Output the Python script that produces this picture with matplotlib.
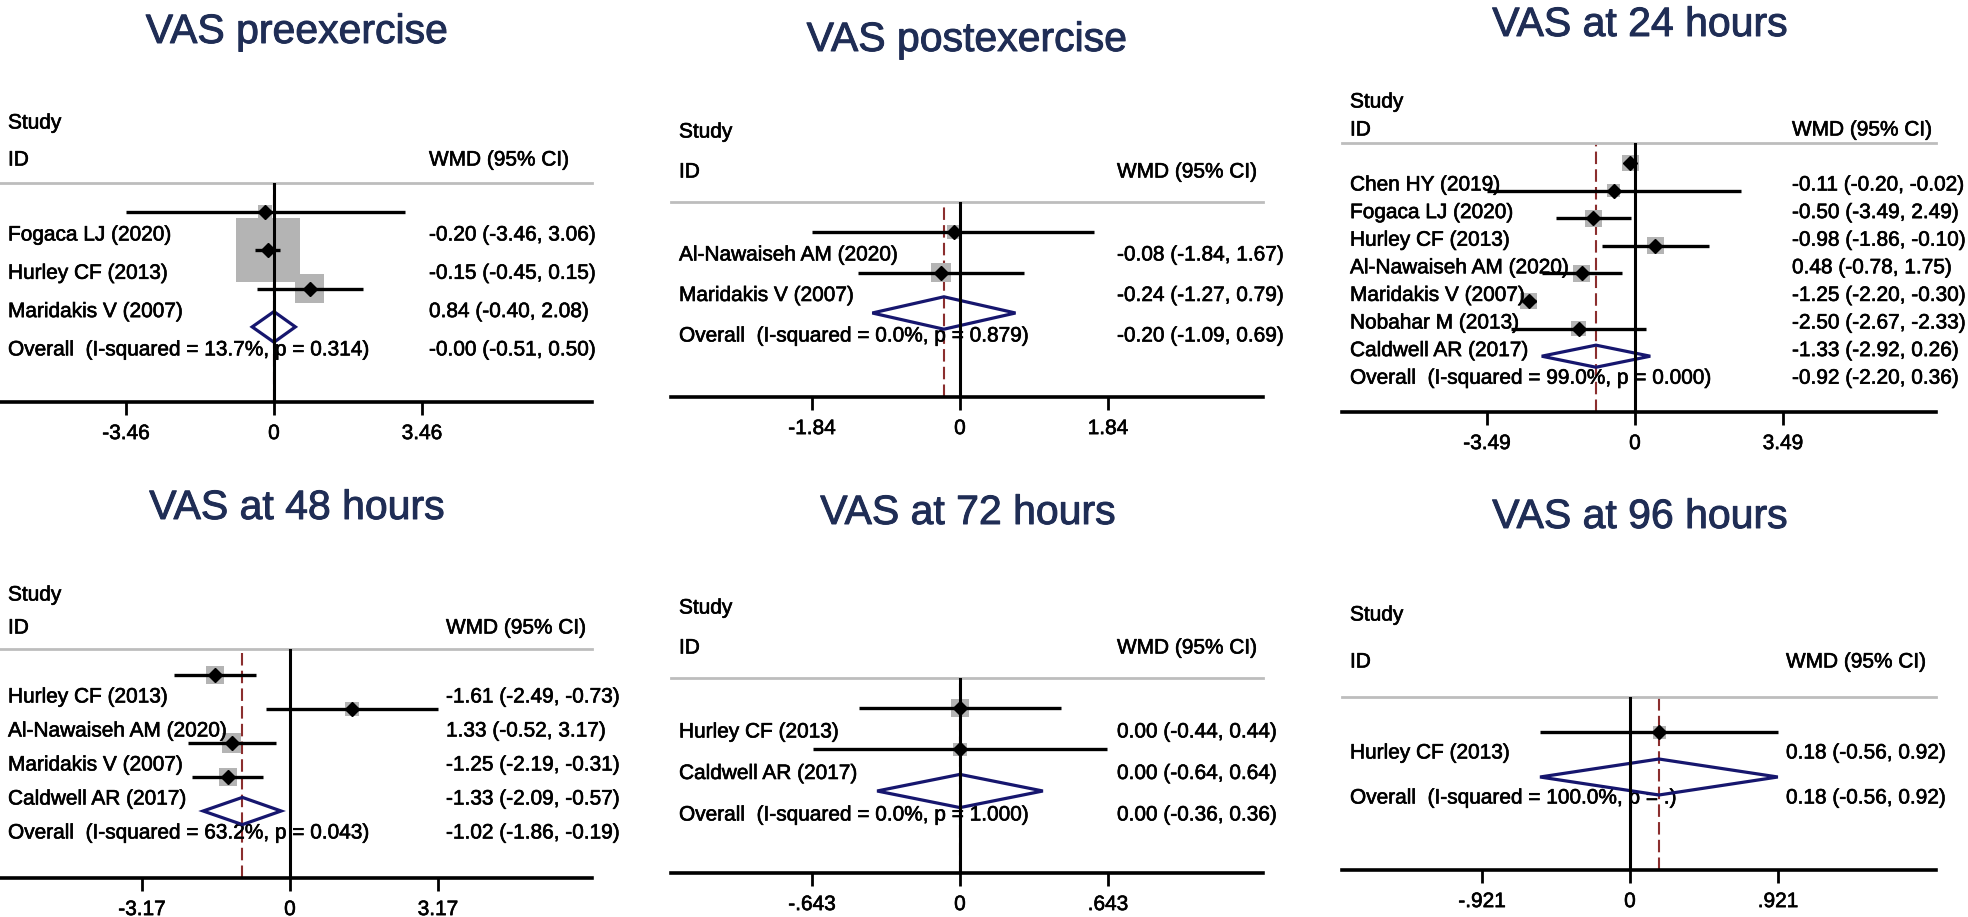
"""
Six-panel forest plot (VAS pain at several time points), Stata metan look.
"""
import numpy as np
import matplotlib
matplotlib.use("Agg")
import matplotlib.pyplot as plt
import matplotlib.transforms as mtransforms
import matplotlib.patheffects as pe
from matplotlib.patches import Polygon

plt.rcParams["font.family"] = ["Liberation Sans", "DejaVu Sans"]

# ── Data ──────────────────────────────────────────────────────────────────────
PRE_STUDIES = ["Fogaca LJ (2020)", "Hurley CF (2013)", "Maridakis V (2007)"]
PRE_EST = [-0.20, -0.15, 0.84]
PRE_LO = [-3.46, -0.45, -0.40]
PRE_HI = [3.06, 0.15, 2.08]
PRE_WEIGHT = [3.8, 79.8, 16.4]
PRE_OVERALL = (-0.001, -0.51, 0.50)
PRE_HET = (13.7, 0.314)
PRE_TICK = 3.46

POST_STUDIES = ["Al-Nawaiseh AM (2020)", "Maridakis V (2007)"]
POST_EST = [-0.08, -0.24]
POST_LO = [-1.84, -1.27]
POST_HI = [1.67, 0.79]
POST_WEIGHT = [32.9, 67.1]
POST_OVERALL = (-0.20, -1.09, 0.69)
POST_HET = (0.0, 0.879)
POST_TICK = 1.84

H24_STUDIES = ["Chen HY (2019)", "Fogaca LJ (2020)", "Hurley CF (2013)",
               "Al-Nawaiseh AM (2020)", "Maridakis V (2007)", "Nobahar M (2013)",
               "Caldwell AR (2017)"]
H24_EST = [-0.11, -0.50, -0.98, 0.48, -1.25, -2.50, -1.33]
H24_LO = [-0.20, -3.49, -1.86, -0.78, -2.20, -2.67, -2.92]
H24_HI = [-0.02, 2.49, -0.10, 1.75, -0.30, -2.33, 0.26]
H24_WEIGHT = [15.7, 9.2, 15.7, 15.7, 15.7, 15.7, 12.2]
H24_OVERALL = (-0.92, -2.20, 0.36)
H24_HET = (99.0, 0.000)
H24_TICK = 3.49

H48_STUDIES = ["Hurley CF (2013)", "Al-Nawaiseh AM (2020)", "Maridakis V (2007)",
               "Caldwell AR (2017)"]
H48_EST = [-1.61, 1.33, -1.25, -1.33]
H48_LO = [-2.49, -0.52, -2.19, -2.09]
H48_HI = [-0.73, 3.17, -0.31, -0.57]
H48_WEIGHT = [26.9, 16.3, 30.0, 26.9]
H48_OVERALL = (-1.02, -1.86, -0.19)
H48_HET = (63.2, 0.043)
H48_TICK = 3.17

H72_STUDIES = ["Hurley CF (2013)", "Caldwell AR (2017)"]
H72_EST = [0.00, 0.00]
H72_LO = [-0.44, -0.64]
H72_HI = [0.44, 0.64]
H72_WEIGHT = [62.3, 37.7]
H72_OVERALL = (0.00, -0.36, 0.36)
H72_HET = (0.0, 1.000)
H72_TICK = 0.643

H96_STUDIES = ["Hurley CF (2013)"]
H96_EST = [0.18]
H96_LO = [-0.56]
H96_HI = [0.92]
H96_WEIGHT = [100.0]
H96_OVERALL = (0.18, -0.56, 0.92)
H96_HET = (100.0, None)
H96_TICK = 0.921

TITLES = ["VAS preexercise", "VAS postexercise", "VAS at 24 hours",
          "VAS at 48 hours", "VAS at 72 hours", "VAS at 96 hours"]

# ── Layout (pixels on the 1968 x 917 canvas) ──────────────────────────────────
W, H = 1968, 917
TICK_PX = 148          # distance zero -> outer tick
TITLE_COLOR = "#1f2d55"
NAVY = "#16166e"
GREY_BOX = "#b4b4b4"
GREY_LINE = "#bdbdbd"
RED = "#8b2e2e"

LAYOUTS = [
    dict(left=0, right=592, zero=274, grey=183, axis=402, m0=212, sp=38.3, loff=23,
         study=123, idy=160, tx=297, ty=32, text_x=8, wmd_x=429, box_k=7.16),
    dict(left=671, right=1263, zero=960, grey=202, axis=397, m0=232, sp=40.5, loff=23,
         study=132, idy=172, tx=967, ty=40, text_x=679, wmd_x=1117, box_k=2.44),
    dict(left=1342, right=1936, zero=1635, grey=143, axis=412, m0=163, sp=27.6, loff=22,
         study=102, idy=130, tx=1640, ty=25, text_x=1350, wmd_x=1792, box_k=4.29),
    dict(left=0, right=592, zero=290, grey=649, axis=878, m0=675, sp=34.0, loff=22,
         study=595, idy=628, tx=297, ty=508, text_x=8, wmd_x=446, box_k=3.47),
    dict(left=671, right=1263, zero=960, grey=678, axis=873, m0=708, sp=41.5, loff=24,
         study=608, idy=648, tx=968, ty=513, text_x=679, wmd_x=1117, box_k=2.28),
    dict(left=1342, right=1936, zero=1630, grey=697, axis=870, m0=732, sp=45.0, loff=21,
         study=615, idy=662, tx=1640, ty=517, text_x=1350, wmd_x=1786, box_k=1.3),
]

PANELS = [
    (PRE_STUDIES, PRE_EST, PRE_LO, PRE_HI, PRE_WEIGHT, PRE_OVERALL, PRE_HET, PRE_TICK),
    (POST_STUDIES, POST_EST, POST_LO, POST_HI, POST_WEIGHT, POST_OVERALL, POST_HET, POST_TICK),
    (H24_STUDIES, H24_EST, H24_LO, H24_HI, H24_WEIGHT, H24_OVERALL, H24_HET, H24_TICK),
    (H48_STUDIES, H48_EST, H48_LO, H48_HI, H48_WEIGHT, H48_OVERALL, H48_HET, H48_TICK),
    (H72_STUDIES, H72_EST, H72_LO, H72_HI, H72_WEIGHT, H72_OVERALL, H72_HET, H72_TICK),
    (H96_STUDIES, H96_EST, H96_LO, H96_HI, H96_WEIGHT, H96_OVERALL, H96_HET, H96_TICK),
]

FS = 15
# slightly heavier strokes, closer to the rasterised Helvetica of the original
BODY_FX = [pe.withStroke(linewidth=0.45, foreground="black")]
TITLE_FX = [pe.withStroke(linewidth=0.7, foreground=TITLE_COLOR)]


def stata_num(v):
    s = f"{v:g}"
    if abs(v) < 1:
        s = s.replace("0.", ".")
    return s


def ci_text(e, lo, hi):
    return f"{e:.2f} ({lo:.2f}, {hi:.2f})"


def draw_panel(fig, title, data, lay):
    studies, est, lo, hi, weight, overall, het, tick = data
    L, R = lay["left"], lay["right"]
    ax = fig.add_axes([L / W, 1 - lay["axis"] / H, (R - L) / W,
                       (lay["axis"] - lay["grey"]) / H])
    ppu = TICK_PX / tick
    ax.set_xlim((L - lay["zero"]) / ppu, (R - lay["zero"]) / ppu)

    m0, sp = lay["m0"], lay["sp"]

    def row(px):
        return (px - m0) / sp

    ax.set_ylim(row(lay["axis"]), row(lay["grey"]))

    for side in ("left", "right"):
        ax.spines[side].set_visible(False)
    ax.spines["bottom"].set_linewidth(2.6)
    ax.spines["top"].set_color(GREY_LINE)
    ax.spines["top"].set_linewidth(2.0)
    ax.set_yticks([])
    ax.set_xticks([-tick, 0, tick])
    ax.set_xticklabels([stata_num(-tick), "0", stata_num(tick)])
    ax.tick_params(axis="x", length=9.4, width=2.0, pad=6.5, labelsize=FS)
    for lbl in ax.get_xticklabels():
        lbl.set_path_effects(BODY_FX)

    n = len(studies)
    rows = np.arange(n)
    est = np.asarray(est)

    # study boxes, CIs and point estimates
    side_pt = lay["box_k"] * np.sqrt(np.asarray(weight)) * 72 / 100
    ax.scatter(est, rows, s=side_pt ** 2, marker="s", color=GREY_BOX, lw=0, zorder=2)
    ax.hlines(rows, lo, hi, color="black", lw=2.4, zorder=3)
    ax.plot(est, rows, "D", color="black", ms=6.8, zorder=4)

    # pooled diamond + dashed pooled line + zero line
    oe, ol, oh = overall
    ax.add_patch(Polygon([(ol, n), (oe, n - 0.4), (oh, n), (oe, n + 0.4)], closed=True,
                         fill=False, edgecolor=NAVY, lw=2.3, zorder=4))
    ax.axvline(oe, color=RED, lw=1.5, dashes=(6, 2.5), zorder=1)
    ax.axvline(0, color="black", lw=2.2, zorder=5)

    # text columns
    trans = mtransforms.blended_transform_factory(ax.transAxes, ax.transData)
    xl = (lay["text_x"] - L) / (R - L)
    xr = (lay["wmd_x"] - L) / (R - L)
    kw = dict(transform=trans, fontsize=FS, va="center", ha="left", clip_on=False,
              path_effects=BODY_FX)
    ax.text(xl, row(lay["study"]), "Study", **kw)
    ax.text(xl, row(lay["idy"]), "ID", **kw)
    ax.text(xr, row(lay["idy"]), "WMD (95% CI)", **kw)
    off = lay["loff"] / sp
    for i, name in enumerate(studies):
        ax.text(xl, i + off, name, **kw)
        ax.text(xr, i + off, ci_text(est[i], lo[i], hi[i]), **kw)
    i2, p = het
    p_str = f"{p:.3f}" if p is not None else "."
    ax.text(xl, n + off, f"Overall  (I-squared = {i2:.1f}%, p = {p_str})", **kw)
    ax.text(xr, n + off, ci_text(oe, ol, oh), **kw)

    fig.text(lay["tx"] / W, 1 - lay["ty"] / H, title, ha="center", va="center",
             fontsize=29.5, color=TITLE_COLOR, path_effects=TITLE_FX)


def main():
    fig = plt.figure(figsize=(W / 100, H / 100), dpi=100, facecolor="white")
    for title, data, lay in zip(TITLES, PANELS, LAYOUTS):
        draw_panel(fig, title, data, lay)
    fig.savefig("out.png", dpi=100, facecolor="white")
    plt.close(fig)


if __name__ == "__main__":
    main()
